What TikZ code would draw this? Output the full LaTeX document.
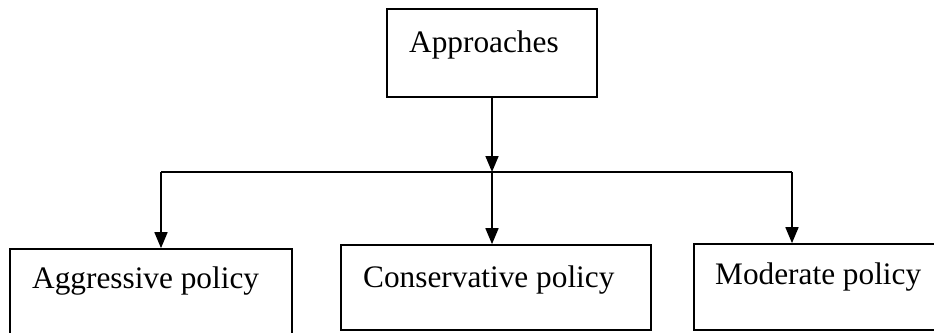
\documentclass[tikz,border=0pt]{standalone}
\usepackage{fontspec}
\setmainfont{Liberation Serif}
\usetikzlibrary{arrows.meta}
\begin{document}
\begin{tikzpicture}[x=1pt,y=-1pt,
  box/.style={draw,line width=1.7pt,rectangle,inner sep=0pt},
  lbl/.style={anchor=base west,inner sep=0pt,font=\fontsize{31.3}{36}\selectfont},
  conn/.style={line width=1.7pt},
  arr/.style={conn,-{Triangle[width=13pt,length=16pt]}}]
\useasboundingbox (0,0) rectangle (934,332);
\node[box,minimum width=210pt,minimum height=88pt] (app) at (492,53) {};
\node[lbl] (appt) at (409,52) {Approaches};
\node[box,minimum width=282pt,minimum height=100pt] (agg) at (151,299) {};
\node[lbl] (aggt) at (32,288) {Aggressive policy};
\node[box,minimum width=310pt,minimum height=85pt] (con) at (496,287.5) {};
\node[lbl] (cont) at (363,287) {Conservative policy};
\node[box,minimum width=250pt,minimum height=86pt] (mod) at (819,287) {};
\node[lbl] (modt) at (715,284) {Moderate policy};
\coordinate (hl) at (161,172);
\coordinate (hm) at (492,172);
\coordinate (hr) at (792,172);
\draw[arr] (app.south) -- (hm);
\draw[conn] (hl) -- (hr);
\draw[arr] (hl) -- (hl |- agg.north);
\draw[arr] (hm) -- (hm |- con.north);
\draw[arr] (hr) -- (hr |- mod.north);
\end{tikzpicture}
\end{document}
